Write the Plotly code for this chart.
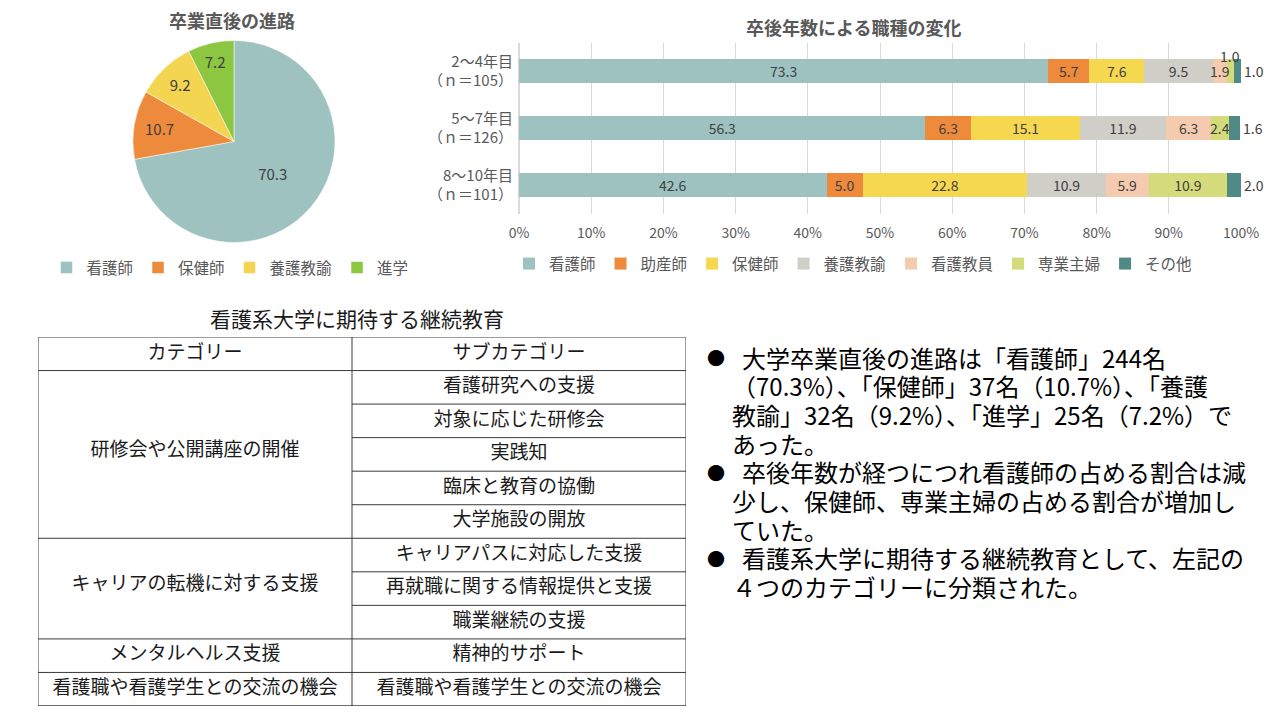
import plotly.graph_objects as go

# ---- data: 卒業直後の進路 (pie) ----
pie_labels = ["看護師", "保健師", "養護教諭", "進学"]
pie_values = [70.3, 10.7, 9.2, 7.2]
pie_colors = ["#9dc2c0", "#ee8a3b", "#f4d552", "#8dc641"]

# ---- data: 卒後年数による職種の変化 (stacked bars) ----
year_groups = ["2～4年目<br>（ｎ＝105）", "5～7年目<br>（ｎ＝126）", "8～10年目<br>（ｎ＝101）"]
jobs = ["看護師", "助産師", "保健師", "養護教諭", "看護教員", "専業主婦", "その他"]
share_2_4 = [73.3, 5.7, 7.6, 9.5, 1.9, 1.0, 1.0]
share_5_7 = [56.3, 6.3, 15.1, 11.9, 6.3, 2.4, 1.6]
share_8_10 = [42.6, 5.0, 22.8, 10.9, 5.9, 10.9, 2.0]
job_colors = ["#9dc2c0", "#ee8a3b", "#f6d850", "#cfcfc8", "#f4cbaf", "#d3db7a", "#4f8a86"]

# ---- data: 看護系大学に期待する継続教育 (table) ----
table_title = "看護系大学に期待する継続教育"
table_header = ["カテゴリー", "サブカテゴリー"]
categories = ["研修会や公開講座の開催", "キャリアの転機に対する支援", "メンタルヘルス支援",
              "看護職や看護学生との交流の機会"]
subcategories = [
    ["看護研究への支援", "対象に応じた研修会", "実践知", "臨床と教育の協働", "大学施設の開放"],
    ["キャリアパスに対応した支援", "再就職に関する情報提供と支援", "職業継続の支援"],
    ["精神的サポート"],
    ["看護職や看護学生との交流の機会"],
]

# ---- summary text ----
bullets = [
    ["大学卒業直後の進路は「看護師」244名",
     "（70.3%）、「保健師」37名（10.7%）、「養護",
     "教諭」32名（9.2%）、「進学」25名（7.2%）で",
     "あった。"],
    ["卒後年数が経つにつれ看護師の占める割合は減",
     "少し、保健師、専業主婦の占める割合が増加し",
     "ていた。"],
    ["看護系大学に期待する継続教育として、左記の",
     "４つのカテゴリーに分類された。"],
]

# the page body has an 8px margin, so the figure is shrunk to fit and coordinates offset
OFF = 8
W, H = 1280 - 2 * OFF, 720 - 2 * OFF
FONT = "Noto Sans CJK JP"
GRAY = "#595959"


def px(x):
    return (x - OFF) / W


def py(y):
    return 1 - (y - OFF) / H


fig = go.Figure()

# pie
fig.add_trace(go.Pie(
    labels=pie_labels, values=pie_values, sort=False, direction="clockwise", rotation=0,
    marker=dict(colors=pie_colors, line=dict(color="#ffffff", width=0.5)),
    textinfo="value", textposition="inside", insidetextorientation="horizontal",
    textfont=dict(size=15, color="#404040", family=FONT),
    domain=dict(x=[px(133), px(335)], y=[py(243), py(40)]),
    legend="legend", hoverinfo="label+value",
))

# stacked bars (narrow segments get their labels as annotations below)
rows = [share_2_4, share_5_7, share_8_10]
for j, job in enumerate(jobs):
    vals = [r[j] for r in rows]
    if job == "その他":
        texts = ["" for v in vals]
    else:
        texts = ["" if v < 2.5 else f"{v:.1f}" for v in vals]
    fig.add_trace(go.Bar(
        y=year_groups, x=vals, name=job, orientation="h",
        marker=dict(color=job_colors[j], line=dict(width=0)),
        text=texts, textposition="inside", insidetextanchor="middle",
        textangle=0, constraintext="none",
        textfont=dict(size=14, color="#404040", family=FONT),
        xaxis="x2", yaxis="y2", legend="legend2", cliponaxis=False,
    ))

for i, r in enumerate(rows):
    cum = 0
    for j, v in enumerate(r):
        mid = cum + v / 2
        cum += v
        lab = dict(y=year_groups[i], xref="x2", yref="y2", text=f"{v:.1f}", showarrow=False,
                   yanchor="middle", font=dict(size=14, color="#404040", family=FONT))
        if jobs[j] == "その他":
            fig.add_annotation(x=min(cum, 100), xanchor="left", xshift=1, **lab)
        elif v <= 1.0:
            fig.add_annotation(x=mid, xanchor="center", yshift=15, **lab)
        elif v < 2.5:
            fig.add_annotation(x=mid, xanchor="center", **lab)

# table: cell text and borders
n_rows = 1 + sum(len(s) for s in subcategories)
col_split = 314
table_w = 648
tx, ty, tt = [], [], []
tx += [col_split / 2, (col_split + table_w) / 2]
ty += [0.5, 0.5]
tt += table_header
shapes = []
line = dict(color="#3a3a3a", width=1)
shapes.append(dict(type="rect", xref="x3", yref="y3", x0=0, x1=table_w, y0=0, y1=n_rows, line=line))
shapes.append(dict(type="line", xref="x3", yref="y3", x0=col_split, x1=col_split, y0=0, y1=n_rows, line=line))
shapes.append(dict(type="line", xref="x3", yref="y3", x0=0, x1=table_w, y0=1, y1=1, line=line))
start = 1
for cat, subs in zip(categories, subcategories):
    end = start + len(subs)
    tx.append(col_split / 2)
    ty.append((start + end) / 2 - (0.1 if len(subs) > 1 else 0))
    tt.append(cat)
    for k, s in enumerate(subs):
        tx.append((col_split + table_w) / 2)
        ty.append(start + k + 0.5)
        tt.append(s)
        if k > 0:
            shapes.append(dict(type="line", xref="x3", yref="y3", x0=col_split, x1=table_w,
                               y0=start + k, y1=start + k, line=line))
    shapes.append(dict(type="line", xref="x3", yref="y3", x0=0, x1=table_w, y0=end, y1=end, line=line))
    start = end

fig.add_trace(go.Scatter(
    x=tx, y=ty, text=tt, mode="text", textposition="middle center",
    textfont=dict(size=19, color="#1a1a1a", family=FONT),
    xaxis="x3", yaxis="y3", showlegend=False, hoverinfo="skip",
))

# titles
fig.add_annotation(x=px(232), y=py(20), xref="paper", yref="paper", text="<b>卒業直後の進路</b>",
                   showarrow=False, xanchor="center", yanchor="middle",
                   font=dict(size=18, color=GRAY, family=FONT))
fig.add_annotation(x=px(853), y=py(27), xref="paper", yref="paper", text="<b>卒後年数による職種の変化</b>",
                   showarrow=False, xanchor="center", yanchor="middle",
                   font=dict(size=18, color=GRAY, family=FONT))
fig.add_annotation(x=px(357), y=py(318), xref="paper", yref="paper", text=table_title,
                   showarrow=False, xanchor="center", yanchor="middle",
                   font=dict(size=21, color="#1a1a1a", family=FONT))

# bullet text
k = 0
for para in bullets:
    fig.add_annotation(x=px(706), y=py(357 + 28.7 * k), xref="paper", yref="paper", text="●",
                       showarrow=False, xanchor="left", yanchor="middle", borderpad=0,
                       font=dict(size=18, color="#000000", family=FONT))
    for li, txt in enumerate(para):
        fig.add_annotation(x=px(741 if li == 0 else 731), y=py(357 + 28.7 * k), xref="paper", yref="paper",
                           text=txt, showarrow=False, xanchor="left", yanchor="middle", borderpad=0,
                           font=dict(size=24, color="#000000", family=FONT))
        k += 1

fig.update_layout(
    width=W, height=H, margin=dict(l=0, r=0, t=0, b=0, autoexpand=False),
    paper_bgcolor="white", plot_bgcolor="white",
    font=dict(family=FONT, color=GRAY),
    barmode="stack", bargap=0.58,
    shapes=shapes,
    legend=dict(orientation="h", x=px(230), y=py(268), xanchor="center", yanchor="middle",
                font=dict(size=15.5, color=GRAY, family=FONT), itemwidth=30, traceorder="normal"),
    legend2=dict(orientation="h", x=px(853), y=py(264), xanchor="center", yanchor="middle",
                 font=dict(size=15.5, color=GRAY, family=FONT), itemwidth=30, traceorder="normal"),
    xaxis2=dict(domain=[px(519), px(1241)], anchor="y2", range=[0, 100], dtick=10, ticksuffix="%",
                showgrid=True, gridcolor="#d9d9d9", zeroline=True, zerolinecolor="#d9d9d9",
                showline=False, ticks="", ticklabelstandoff=9,
                tickfont=dict(size=14, color=GRAY, family=FONT), fixedrange=True),
    yaxis2=dict(domain=[py(213.5), py(42.5)], anchor="x2", autorange="reversed", type="category",
                showgrid=False, showline=False, ticks="", ticklabelstandoff=5,
                tickfont=dict(size=15, color=GRAY, family=FONT), fixedrange=True),
    xaxis3=dict(domain=[px(38), px(686)], anchor="y3", range=[0, table_w], visible=False, fixedrange=True),
    yaxis3=dict(domain=[py(706), py(337)], anchor="x3", range=[n_rows, 0], visible=False, fixedrange=True),
)

fig.write_html("out.html")
